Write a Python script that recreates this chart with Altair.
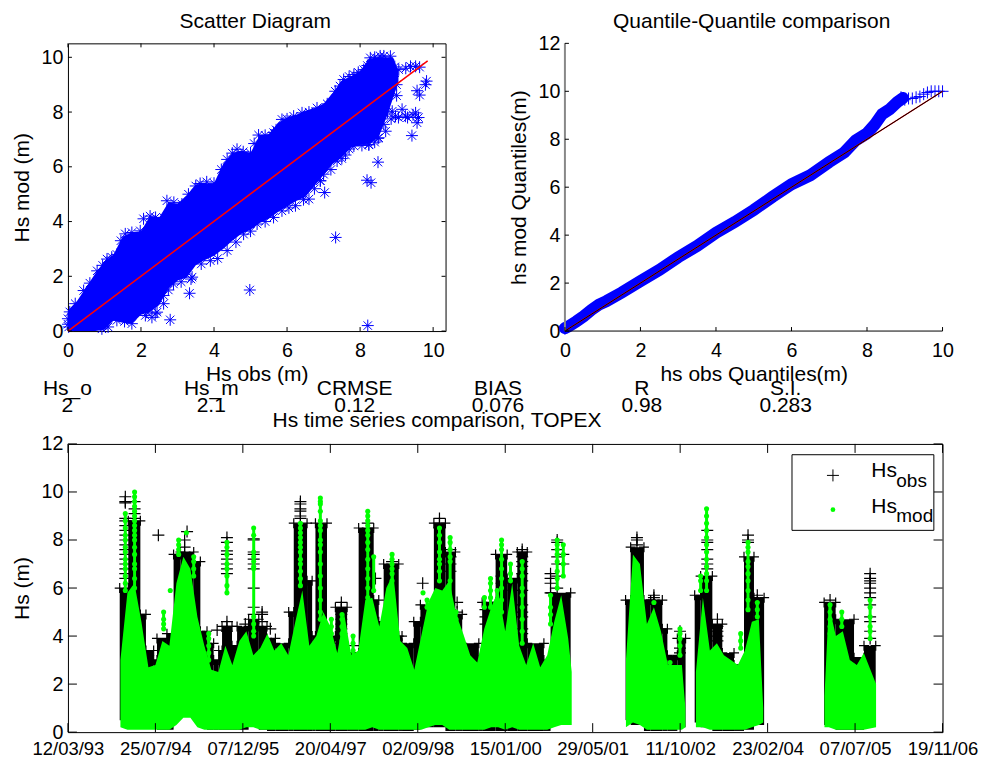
import altair as alt
import pandas as pd

# ---------- scatter panel ----------
band_x = [0,.25,.5,.75,1.0,1.25,1.5,1.75,2,2.25,2.5,2.75,3,3.25,3.5,3.75,4,4.25,4.5,4.75,5,5.25,5.5,5.75,6,6.25,6.5,6.75,7,7.25,7.5,7.75,8,8.25,8.5,8.75,8.9,9.05]
band_up = [.75,1.1,1.6,2.1,2.55,2.8,3.45,3.6,3.65,4.2,4.15,4.7,4.65,4.95,5.35,5.4,5.4,6.1,6.5,6.6,6.5,7.15,7.2,7.6,7.8,7.9,8.05,8.15,8.3,8.7,9.15,9.3,9.5,9.95,10,10,10,9.5]
band_lo = [0,0,0,0,.05,.39,.3,.27,.6,.7,.95,1.55,1.85,1.95,2.4,2.6,2.75,3.0,3.3,3.55,3.7,3.95,4.1,4.35,4.55,4.75,4.9,5.3,5.7,6.1,6.35,6.7,6.8,6.85,7.05,7.9,8.5,9.1]
star_x = [0,0,.02,.05,.43,.8,1.07,1.34,1.57,1.98,2.07,2.25,2.62,2.71,3.12,3.3,3.62,4.0,4.36,4.63,5.0,5.22,5.63,5.86,6.18,6.41,6.82,7.32,7.55,7.83,8.1,8.28,8.55,8.83,9.06,
          .93,1.34,1.75,2.16,2.44,2.62,2.89,3.4,3.9,4.36,4.81,5.18,5.63,5.86,6.23,6.6,6.91,7.0,7.37,7.6,7.83,8.24,8.51,8.65,8.88,
          8.21,4.98,2.8,3.33,3.37,7.33,8.19,8.3,8.49,8.24,8.49,9.42,9.56,9.52,8.97,9.15,9.24,7.03,6.91,9.56,9.63,9.82,9.79,9.38,9.52,9.63,8.85,2.39,2.12,2.62,
          8.75,8.85,9.05,9.3,9.45,9.6,8.7,8.9,8.6,9.25,8.95,
          .2,.6,.95,1.2,1.45,1.75,2.4,2.9,3.5,3.8,4.2,4.5,4.8,5.1,5.4,5.7,6.0,6.6,7.1,7.45,7.7,7.95,8.2,8.4,8.65,
          1.1,1.55,2.3,2.75,3.1,3.65,4.1,4.6,5.0,5.4,6.05,6.45,6.75,7.2,7.5,7.7,8.05,8.4,9.0,9.0]
star_y = [.25,.45,.15,.7,1.48,2.2,2.63,2.8,3.55,3.66,4.1,4.2,4.15,4.76,4.64,5.0,5.39,5.4,6.27,6.64,6.5,7.16,7.25,7.73,7.85,7.97,8.15,8.76,9.19,9.37,9.55,9.98,10.05,10.04,9.55,
          .08,.39,.27,.69,.69,1.3,1.72,1.97,2.57,2.94,3.54,3.91,4.15,4.39,4.58,4.82,5.49,5.73,6.21,6.43,6.76,6.82,7.06,7.55,8.03,
          .2,1.5,.41,1.38,1.9,3.42,5.51,5.42,6.17,6.8,7.04,7.14,7.61,7.97,7.85,8.1,7.85,5.06,5.49,8.78,8.62,9.13,9.0,9.67,9.67,9.64,8.66,.63,.57,1.0,
          8.0,7.75,7.8,7.8,7.9,7.8,7.3,9.3,9.85,9.6,9.65,
          1.0,1.75,2.4,2.7,3.3,3.6,4.15,4.7,5.3,5.45,5.9,6.5,6.55,6.85,7.15,7.35,7.75,8.0,8.3,8.95,9.3,9.45,9.7,10.0,10.05,
          .15,.35,.5,1.5,1.8,2.45,2.65,3.25,3.65,4.0,4.5,4.8,5.2,5.9,6.3,6.65,6.78,6.9,9.0,8.6]
red_x = [0, 9.85]
red_y = [0, 9.87]

# ---------- quantile panel ----------
qq_x = [0,.1,.3,.5,.7,.9,1.1,1.5,2,2.5,3,3.5,4,4.5,5,5.5,6,6.5,7,7.4,7.7,8,8.2,8.4,8.6,8.8,8.95]
qq_y = [.12,.2,.4,.62,.88,1.1,1.25,1.6,2.08,2.55,3.08,3.55,4.1,4.55,5.05,5.6,6.12,6.5,7.05,7.45,7.95,8.25,8.6,9.05,9.25,9.55,9.72]
tail_x = [0,0,.05,8.9,9.0,9.1,9.2,9.3,9.4,9.5,9.6,9.7,9.8,9.9,10]
tail_y = [.1,.2,.15,9.75,9.65,9.7,9.7,9.75,9.78,9.88,9.95,10,10,10,10]
ref_x = [0, 10]
ref_y = [0, 10]

# ---------- time series panel (days after 12/03/93) ----------
obs_start = [296,345,414,446,490,509,566,604,643,719,757,795,833,862,881,938,967,1033,1091,1138,1186,1262,1291,1367,1396,1415,1481,1529,1596,1662,1748,1777,1805,1891,1910,1977,2015,2092,2158,2215,2254,2349,2368,2445,2511,2569,2626,2721,2759,
             3188,3217,3293,3331,3398,3427,3484,
             3583,3617,3684,3741,3808,3865,3922,
             4323,4389,4494,4551]
obs_end = [345,414,446,490,509,566,604,643,719,757,795,833,862,881,938,967,1033,1091,1138,1186,1262,1291,1367,1396,1415,1481,1529,1596,1662,1748,1777,1805,1891,1910,1977,2015,2092,2158,2215,2254,2349,2368,2445,2511,2569,2626,2721,2759,2874,
           3217,3293,3331,3398,3427,3484,3531,
           3617,3684,3741,3808,3865,3922,3980,
           4389,4494,4551,4618]
obs_top = [6.0,8.8,4.9,3.4,3.0,3.9,4.1,7.4,7.5,7.1,4.2,3.7,3.0,3.4,4.4,3.6,4.4,4.7,4.4,3.9,3.7,5.0,8.7,6.3,4.0,8.7,4.0,5.2,3.3,8.5,5.5,4.6,7.0,4.0,3.7,4.6,5.3,8.7,7.5,4.9,3.7,3.0,5.4,7.4,6.4,7.5,3.7,3.0,5.8,
           5.5,7.7,5.5,5.5,4.3,3.2,3.9,
           5.7,6.5,4.5,3.3,2.8,7.3,5.6,
           5.4,4.7,3.1,3.6]
obs_low = [.5,.3,.2,.2,.15,.1,.1,.7,.7,.7,.2,.1,.1,.1,.1,.1,.1,.3,.1,.05,.05,.05,.05,.05,.05,.05,.05,.05,.05,.05,.05,.05,.05,.05,.05,.1,.2,.2,.05,.05,.05,.05,.05,.05,.05,.05,.05,.05,.3,
           .5,.3,.05,.05,.05,.05,.2,
           .4,.2,.05,.05,.05,.1,.3,
           .3,.1,.1,.3]

stack_day = [328,381,517,667,681,853,909,1014,1062,1110,1157,1329,1563,1630,1714,1758,1853,2028,2124,2187,2225,2387,2416,2479,2597,2759,2797,2832,3253,3350,3499,3655,3713,3888,3941,4357,4586]
stack_levels = [
    [9.8,9.6,9.55,8.9,8.8,8.6,8.4,8.2,8.0,7.8,7.6,7.4,7.2,7.0,6.8,6.6,6.4],
    [9.6,9.3,9.1,8.9],
    [8.2],
    [8.0,7.7,7.5],
    [8.35],
    [4.25],
    [8.1,7.9,7.55,7.4,7.2,7.0,6.8,6.6,4.6,4.4,4.2],
    [4.5],
    [8.05,8.0,7.5,7.4,7.2,7.0,6.8,6.0,5.2,4.9],
    [5.0,4.9,4.6],
    [4.3],
    [9.6,9.5,9.3,9.2,9.0,8.9],
    [5.4,5.2,5.1,4.9,4.7,4.5,4.3,4.1,3.9,3.7],
    [3.6,3.3,3.1,2.9],
    [8.7,8.5,8.4],
    [6.4],
    [7.1,7.0],
    [6.2],
    [8.9,8.7,8.5],
    [7.6,7.3,7.0,6.7],
    [5.4,5.0],
    [5.1,4.8,4.5],
    [5.4],
    [6.5,6.2,5.9],
    [7.6,7.5,7.3,7.1,6.9,6.6,6.3,5.9,5.3,5.0,4.8,4.3,4.1],
    [6.6,6.4,6.2,5.8],
    [8.0,7.9,7.6,7.3,7.0,6.5,6.0],
    [7.4,7.0],
    [8.1,8.0,7.8],
    [5.7,5.6,5.5],
    [4.2,3.5,3.3],
    [8.4,8.0,7.9,7.6,7.2,7.0,6.8],
    [4.7,4.4,4.2,4.0,3.8],
    [8.2,8.0,7.9],
    [5.7,5.5,5.3,5.0],
    [5.5],
    [6.6,6.4,6.3,6.2,6.0,5.8,5.6,5.3,4.8,4.6,4.2,3.9],
]

mod_seg = [1]*66 + [2]*10 + [3]*11 + [4]*8
mod_day = [300,340,380,420,460,500,540,580,620,660,700,740,780,820,860,900,940,980,1020,1060,1100,1140,1180,1220,1260,1300,1340,1380,1420,1460,1500,1540,1580,1620,1660,1700,1740,1780,1820,1860,1900,1940,1980,2020,2060,2100,2140,2180,2220,2260,2300,2340,2380,2420,2460,2500,2540,2580,2620,2660,2700,2740,2780,2820,2860,2880,
           3190,3230,3270,3310,3350,3390,3430,3470,3510,3530,
           3590,3630,3670,3710,3750,3790,3830,3870,3910,3950,3975,
           4325,4350,4390,4430,4470,4510,4550,4620]
mod_top = [3.0,5.8,6.2,4.6,2.7,2.8,3.8,3.6,6.2,7.3,6.8,4.8,3.6,2.6,2.5,3.6,2.8,3.8,4.2,3.2,3.5,4.1,3.4,3.7,3.2,4.6,5.9,3.6,4.0,5.0,4.4,3.3,4.9,3.2,3.4,5.5,5.6,4.4,6.0,6.6,3.8,3.5,2.6,4.0,5.4,6.0,5.9,6.3,4.9,4.1,3.2,2.9,4.3,5.2,5.9,4.2,6.2,3.6,2.8,3.7,2.7,3.2,4.6,5.7,3.9,2.5,
           3.0,7.4,7.0,4.5,5.2,4.2,2.8,2.8,2.8,1.0,
           2.5,5.6,3.4,3.7,3.2,3.0,2.8,3.4,4.6,4.7,1.0,
           1.5,5.3,4.0,4.2,3.0,2.8,3.3,2.0]
mod_low = [.2,.1,.1,.1,.1,.1,.1,.1,.3,.6,.6,.2,.1,.1,.1,.1,.1,.1,.2,.2,.1,.1,.1,.1,.1,.1,.1,.1,.1,.1,.1,.1,.1,.1,.1,.1,.2,.1,.1,.1,.1,.1,.1,.1,.2,.3,.3,.1,.1,.1,.1,.1,.1,.2,.2,.1,.2,.1,.1,.1,.1,.1,.2,.3,.3,.3,
           .2,.4,.3,.1,.1,.1,.1,.1,.1,.2,
           .2,.2,.1,.1,.1,.1,.1,.1,.2,.3,.4,
           .2,.2,.1,.1,.1,.1,.1,.2]

dot_day = [328,381,547,585,633,677,719,805,909,1062,1329,1443,1506,1567,1630,1714,1748,1853,2030,2053,2124,2185,2219,2381,2416,2454,2479,2530,2597,2759,2797,2832,3350,3442,3499,3617,3651,3846,3888,3941,4357,4424,4586]
dot_levels = [
    [9.1,8.8,8.5,8.2,8.0,7.7,7.5,7.2,7.0,6.8,6.5,6.2,5.9],
    [10,9.8,9.6,9.4,9.2,9.0,8.8,8.6,8.4,8.2,8.0,7.7,7.4,7.0,6.8,6.4,6.0],
    [5.0,4.7,4.5,4.3],
    [5.9],
    [8.0,7.8,7.6,7.4],
    [8.3],
    [7.3,7.1,6.8,6.5],
    [4.1,3.9,3.6,3.3,3.0],
    [7.9,7.7,7.4,7.0,6.8,6.5,6.1,5.8],
    [8.5,8.2,7.5,7.3,7.1,6.9,6.8,4.8,4.5,4.2,4.0],
    [8.7,8.5,8.3,8.1,7.9,7.7,7.5,7.2,7.0,6.7,6.4,6.1],
    [9.75,9.6,9.5,9.2,8.8,8.6,8.4,8.0,7.8,7.5,7.0,6.5,6.0,5.5,5.0,4.7],
    [4.7,4.4,4.1],
    [4.9,4.7,4.4,4.1,3.8],
    [4.0,3.7,3.4,3.1,2.8],
    [9.2,9.0,8.8,8.6,8.4,8.2,7.9,7.6,7.2,6.8,6.4,6.0,5.6],
    [7.3,5.9],
    [7.4,7.2,7.0,6.8,6.6,6.3],
    [5.8],
    [5.5,5.2],
    [8.5,8.2,7.9,7.5,7.2,7.0,6.7,6.3],
    [8.1,7.9,7.6,7.3,7.1,6.3,5.5],
    [5.0,4.7],
    [5.6,5.2],
    [6.4,6.2,5.9,5.6,5.2],
    [5.9,5.5],
    [8.0,7.8,7.6,7.2,6.8,6.4,6.0,5.5,5.0],
    [7.0,6.6,6.3],
    [7.1,6.8,6.5,6.0,5.7,5.2,4.7,4.2,3.7],
    [5.7,5.2,4.9,4.5],
    [8.0,7.8,7.6,7.4,7.1,6.7,6.4,6.0],
    [7.8,7.4,7.0,6.5],
    [5.4],
    [2.9],
    [4.3,4.1,3.9,3.6,3.2],
    [6.5,6.3,5.9],
    [9.3,9.0,8.7,8.4,8.1,7.8,7.5,7.2,6.9,6.6,6.3,5.9],
    [4.1,3.8,3.5],
    [7.9,7.7,7.5,7.1,6.9,6.6,6.3,5.9,5.5,5.1],
    [5.4,5.1,4.8],
    [5.3,5.0,4.7,4.4,4.1],
    [5.0,4.7,4.4],
    [5.5,5.2,4.8,4.4,4.2,3.9],
]

time_ticks = [0,500,1000,1500,2000,2500,3000,3500,4000,4500,5000]
time_labels = ["12/03/93","25/07/94","07/12/95","20/04/97","02/09/98","15/01/00","29/05/01","11/10/02","23/02/04","07/07/05","19/11/06"]
stat_names = ["Hs_o","Hs_m","CRMSE","BIAS","R","S.I."]
stat_values = ["2","2.1","0.12","0.076","0.98","0.283"]

# ---------- layout and style ----------
FONT = "Liberation Sans"
FS = 19.7   # tick labels
TS = 21     # titles and other text
STAR = "M-1,0L1,0M0,-1L0,1M-.7,-.7L.7,.7M-.7,.7L.7,-.7"
PLUS = "M-1,0L1,0M0,-1L0,1"
W1, H1 = 378, 288
W3, H3 = 875.5, 288.5
LEFT3, TOP3 = 67.5, 443.5
LEFT2, TOP1 = 565, 42
stat_cx = [67, 211, 354.5, 498, 642, 786]
one = pd.DataFrame({"a": [0]})


def axis(title, values, size=FS, **kw):
    return alt.Axis(title=title, values=values, ticks=False, domain=False, grid=False,
                    labelFont=FONT, labelFontSize=size, labelColor="black", labelOverlap=False,
                    labelFlush=False, labelBound=False, titleFont=FONT, titleFontSize=TS,
                    titleFontWeight="normal", titleColor="black", format="d", **kw)


def ticks(xs, ys, w, h, n, sides):
    """Inward tick marks on the given sides, placed through the panel's scales."""
    out = []
    xd = pd.DataFrame({"v": xs.pop("values")})
    yd = pd.DataFrame({"v": ys.pop("values")})
    if "b" in sides:
        out.append(alt.Chart(xd).mark_rule(color="black").encode(x=alt.X("v:Q", **xs), y=alt.value(h), y2=alt.value(h - n)))
    if "t" in sides:
        out.append(alt.Chart(xd).mark_rule(color="black").encode(x=alt.X("v:Q", **xs), y=alt.value(0), y2=alt.value(n)))
    if "l" in sides:
        out.append(alt.Chart(yd).mark_rule(color="black").encode(y=alt.Y("v:Q", **ys), x=alt.value(0), x2=alt.value(n)))
    if "r" in sides:
        out.append(alt.Chart(yd).mark_rule(color="black").encode(y=alt.Y("v:Q", **ys), x=alt.value(w), x2=alt.value(w - n)))
    return out


def label(txt, x, y, size=TS, align="center", ox=LEFT3, oy=TOP3):
    return alt.Chart(one).mark_text(text=txt, font=FONT, fontSize=size, color="black", align=align, baseline="alphabetic").encode(
        x=alt.value(x - ox), y=alt.value(y - oy))


# ---------- scatter ----------
sx = alt.Scale(domain=[0, 10.34], nice=False, zero=False)
sy = alt.Scale(domain=[0, 10.51], nice=False, zero=False)
t10 = [0, 2, 4, 6, 8, 10]
band = pd.DataFrame({"x": band_x, "up": band_up, "lo": band_lo})
stars = pd.DataFrame({"x": star_x, "y": star_y})
red = pd.DataFrame({"x": red_x, "y": red_y})
scatter = alt.layer(
    alt.Chart(band).mark_area(color="#0000ff", opacity=1).encode(
        x=alt.X("x:Q", scale=sx, axis=axis("Hs obs (m)", t10, labelPadding=9, titlePadding=4)),
        y=alt.Y("up:Q", scale=sy, axis=axis("Hs mod (m)", t10, labelPadding=5, titlePadding=9)),
        y2="lo:Q"),
    alt.Chart(stars).mark_point(shape=STAR, size=144, filled=False, color="#0000ff", strokeWidth=1, opacity=1).encode(
        x=alt.X("x:Q", scale=sx, axis=None), y=alt.Y("y:Q", scale=sy, axis=None)),
    alt.Chart(red).mark_line(color="#ff0000", strokeWidth=1.5).encode(
        x=alt.X("x:Q", scale=sx, axis=None), y=alt.Y("y:Q", scale=sy, axis=None)),
    *ticks({"values": t10, "scale": sx, "axis": None}, {"values": t10, "scale": sy, "axis": None}, W1, H1, 4, "btlr"),
    label("Scatter Diagram", 255, 27, oy=TOP1),
).resolve_axis(x="independent", y="independent").properties(width=W1, height=H1, view=alt.ViewConfig(stroke="black", strokeWidth=1))

# ---------- quantile-quantile ----------
qx = alt.Scale(domain=[0, 10], nice=False, zero=False)
qy = alt.Scale(domain=[0, 12], nice=False, zero=False)
t12 = [0, 2, 4, 6, 8, 10, 12]
qq = pd.DataFrame({"x": qq_x, "y": qq_y})
tail = pd.DataFrame({"x": tail_x, "y": tail_y})
ref = pd.DataFrame({"x": ref_x, "y": ref_y})
qq_chart = alt.layer(
    alt.Chart(qq).mark_line(color="#0000ff", strokeWidth=12, strokeCap="round").encode(
        x=alt.X("x:Q", scale=qx, axis=axis("hs obs Quantiles(m)", t10, labelPadding=9, titlePadding=4)),
        y=alt.Y("y:Q", scale=qy, axis=axis("hs mod Quantiles(m)", t12, labelPadding=5, titlePadding=9))),
    alt.Chart(tail).mark_point(shape=PLUS, size=144, filled=False, color="#0000ff", strokeWidth=1, opacity=1).encode(
        x=alt.X("x:Q", scale=qx, axis=None), y=alt.Y("y:Q", scale=qy, axis=None)),
    alt.Chart(ref).mark_line(color="#ff0000", strokeWidth=1.3).encode(
        x=alt.X("x:Q", scale=qx, axis=None), y=alt.Y("y:Q", scale=qy, axis=None)),
    alt.Chart(ref).mark_line(color="black", strokeWidth=1).encode(
        x=alt.X("x:Q", scale=qx, axis=None), y=alt.Y("y:Q", scale=qy, axis=None)),
    alt.Chart(one).mark_rule(color="#888888", strokeWidth=2).encode(x=alt.value(0), y=alt.value(0), y2=alt.value(H1)),
    alt.Chart(one).mark_rule(color="black", strokeWidth=1).encode(y=alt.value(H1), x=alt.value(0), x2=alt.value(W1)),
    *ticks({"values": t10, "scale": qx, "axis": None}, {"values": t12, "scale": qy, "axis": None}, W1, H1, 4, "bl"),
    label("Quantile-Quantile comparison", 752, 27, ox=LEFT2, oy=TOP1),
).resolve_axis(x="independent", y="independent").properties(width=W1, height=H1, view=alt.ViewConfig(stroke=None))

# ---------- time series ----------
tx = alt.Scale(domain=[0, 5000], nice=False, zero=False)
ty = alt.Scale(domain=[0, 12], nice=False, zero=False)
blocks = pd.DataFrame({"s": obs_start, "e": obs_end, "top": obs_top, "low": obs_low})
mod = pd.DataFrame({"d": mod_day, "top": mod_top, "low": mod_low, "seg": mod_seg})
plus = pd.DataFrame([{"d": d, "y": y} for d, ls in zip(stack_day, stack_levels) for y in ls])
edges = pd.DataFrame([{"d": d, "y": t} for s, e, t in zip(obs_start, obs_end, obs_top) for d in (s, e)])
dots = pd.DataFrame([{"d": d, "y": y} for d, ls in zip(dot_day, dot_levels) for y in ls])
cols = pd.DataFrame([{"d": d, "hi": max(ls), "lo": min(ls)} for d, ls in zip(dot_day, dot_levels) if len(ls) > 1])
label_expr = "{}[round(datum.value/500)]".format(time_labels)

layers = [
    alt.Chart(blocks).mark_rect(color="black", opacity=1).encode(
        x=alt.X("s:Q", scale=tx, axis=axis(None, time_ticks, size=18.5, labelPadding=7, labelExpr=label_expr)),
        x2="e:Q",
        y=alt.Y("top:Q", scale=ty, axis=axis("Hs (m)", t12, labelPadding=5, titlePadding=9)),
        y2="low:Q"),
    alt.Chart(plus).mark_point(shape=PLUS, size=144, filled=False, color="black", strokeWidth=1.2, opacity=1).encode(
        x=alt.X("d:Q", scale=tx, axis=None), y=alt.Y("y:Q", scale=ty, axis=None)),
    alt.Chart(edges).mark_point(shape=PLUS, size=100, filled=False, color="black", strokeWidth=1.2, opacity=1).encode(
        x=alt.X("d:Q", scale=tx, axis=None), y=alt.Y("y:Q", scale=ty, axis=None)),
    alt.Chart(mod).mark_area(color="#00ff00", opacity=1).encode(
        x=alt.X("d:Q", scale=tx, axis=None), y=alt.Y("top:Q", scale=ty, axis=None), y2="low:Q", detail="seg:N"),
    alt.Chart(cols).mark_rule(color="#00ff00", strokeWidth=3).encode(
        x=alt.X("d:Q", scale=tx, axis=None), y=alt.Y("hi:Q", scale=ty, axis=None), y2="lo:Q"),
    alt.Chart(dots).mark_point(shape="circle", size=26, filled=True, color="#00ff00", opacity=1).encode(
        x=alt.X("d:Q", scale=tx, axis=None), y=alt.Y("y:Q", scale=ty, axis=None)),
    *ticks({"values": time_ticks, "scale": tx, "axis": None}, {"values": t12, "scale": ty, "axis": None}, W3, H3, 9, "btlr"),
    # legend box
    alt.Chart(one).mark_rect(fill="white", stroke="black", strokeWidth=1).encode(
        x=alt.value(792.3 - LEFT3), x2=alt.value(934.3 - LEFT3), y=alt.value(454.3 - TOP3), y2=alt.value(530 - TOP3)),
    alt.Chart(one).mark_point(shape=PLUS, size=144, filled=False, color="black", strokeWidth=1, opacity=1).encode(
        x=alt.value(833.3 - LEFT3), y=alt.value(475 - TOP3)),
    alt.Chart(one).mark_point(shape="circle", size=22, filled=True, color="#00ff00", opacity=1).encode(
        x=alt.value(833.3 - LEFT3), y=alt.value(509.3 - TOP3)),
    label("Hs", 871.7, 476.7, align="left"),
    label("obs", 896.7, 486.7, size=19, align="left"),
    label("Hs", 871.7, 512.3, align="left"),
    label("mod", 896.7, 521.7, size=19, align="left"),
    label("Hs time series comparison, TOPEX", 437, 427),
]
for name, val, cx in zip(stat_names, stat_values, stat_cx):
    layers.append(label(name, cx, 395))
    layers.append(label(val, cx, 411.7))

series = alt.layer(*layers).resolve_axis(x="independent", y="independent").properties(width=W3, height=H3, view=alt.ViewConfig(stroke="black", strokeWidth=1))

top = alt.hconcat(scatter, qq_chart, spacing=119.5, bounds="flush")
chart = alt.vconcat(top, series, spacing=-8).properties(
    padding={"left": 2, "top": 2, "right": 0, "bottom": -3}
).resolve_scale(x="independent", y="independent").configure(background="white")

chart.save("out.html", embed_options={"renderer": "svg", "actions": False})
